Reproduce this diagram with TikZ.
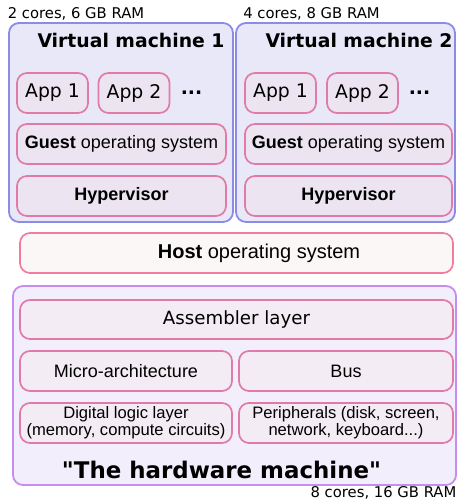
\documentclass[tikz,border=0pt]{standalone}
\usepackage{fontspec}
\setmainfont{Liberation Sans}
\newfontfamily\djvfont{DejaVu Sans}
\usepackage{xcolor}

\definecolor{vmfill}{HTML}{E9E8F8}
\definecolor{vmline}{HTML}{8C8CE8}
\definecolor{layerfill}{HTML}{ECE5F1}
\definecolor{layerline}{HTML}{E07AA8}
\definecolor{hostfill}{HTML}{FBF7F7}
\definecolor{hostline}{HTML}{F07CA0}
\definecolor{hwfill}{HTML}{F2EEFB}
\definecolor{hwline}{HTML}{C88CF0}
\definecolor{hwlayerfill}{HTML}{F4ECF4}

\begin{document}
\begin{tikzpicture}
  [
    x                       = 1pt,
    y                       = -1pt,
    every node/.style       = {inner sep=0pt, outer sep=0pt, font=\fontsize{18}{19}\selectfont},
    vmbox/.style            = {draw=vmline, fill=vmfill, line width=1.8pt, rounded corners=10pt,
                               minimum height=199pt},
    layer/.style            = {draw=layerline, fill=layerfill, line width=1.7pt, rounded corners=10pt,
                               minimum height=40pt},
    hwlayer/.style          = {layer, fill=hwlayerfill},
    app/.style              = {layer, minimum width=71pt, font=\djvfont\fontsize{18.8}{20}\selectfont},
    title/.style            = {font=\djvfont\bfseries\fontsize{18.8}{20}\selectfont},
    spec/.style             = {font=\djvfont\fontsize{14.8}{16}\selectfont}
  ]
  \useasboundingbox (0,0) rectangle (459,502);

  \node[vmbox, minimum width=224pt] (vmone) at (121,122.5) {};
  \node[vmbox, minimum width=219pt] (vmtwo) at (345.5,122.5) {};

  \node[spec] (specone) at (76,14) {2 cores, 6 GB RAM};
  \node[spec] (spectwo) at (311.5,14) {4 cores, 8 GB RAM};

  \node[title] (titleone) at (131,40) {Virtual machine 1};
  \node[title] (titletwo) at (359,40) {Virtual machine 2};

  \node[app] (appaone) at (52.5,93) {App 1};
  \node[app] (appbone) at (134,93) {App 2};
  \node[title] (dotsone) at (191.5,93) {...};
  \node[app] (appatwo) at (280.5,93) {App 1};
  \node[app] (appbtwo) at (362.5,93) {App 2};
  \node[title] (dotstwo) at (419.5,93) {...};

  \node[layer, minimum width=209pt] (guestone) at (121.5,144) {\textbf{Guest} operating system};
  \node[layer, minimum width=207pt] (guesttwo) at (348.5,144) {\textbf{Guest} operating system};
  \node[layer, minimum width=209pt] (hypone) at (121.5,196) {\textbf{Hypervisor}};
  \node[layer, minimum width=207pt] (hyptwo) at (348.5,196) {\textbf{Hypervisor}};

  \node[layer, draw=hostline, fill=hostfill, minimum width=433pt] (host) at (236.5,253) {};
  \node[font=\fontsize{20}{21}\selectfont] (hosttext) at (259,253) {\textbf{Host} operating system};

  \node[draw=hwline, fill=hwfill, line width=1.8pt, rounded corners=10pt,
        minimum width=443pt, minimum height=199pt] (hw) at (234.5,385.5) {};

  \node[hwlayer, minimum width=433pt, minimum height=39pt,
        font=\djvfont\fontsize{18.2}{20}\selectfont] (asm) at (236.5,319.5) {Assembler layer};
  \node[hwlayer, minimum width=212pt] (micro) at (126,371) {Micro-architecture};
  \node[hwlayer, minimum width=214pt] (bus) at (346,371) {Bus};
  \node[hwlayer, minimum width=212pt, align=center,
        font=\fontsize{16.6}{17}\selectfont] (logic) at (126,423) {Digital logic layer\\(memory, compute circuits)};
  \node[hwlayer, minimum width=214pt, align=center,
        font=\fontsize{16.6}{17}\selectfont] (periph) at (346,423) {Peripherals (disk, screen,\\network, keyboard...)};

  \node[title, font=\djvfont\bfseries\fontsize{22.9}{24}\selectfont] (hwtitle) at (221.5,470) {"The hardware machine"};
  \node[spec] (spechw) at (383.5,493) {8 cores, 16 GB RAM};
\end{tikzpicture}
\end{document}
